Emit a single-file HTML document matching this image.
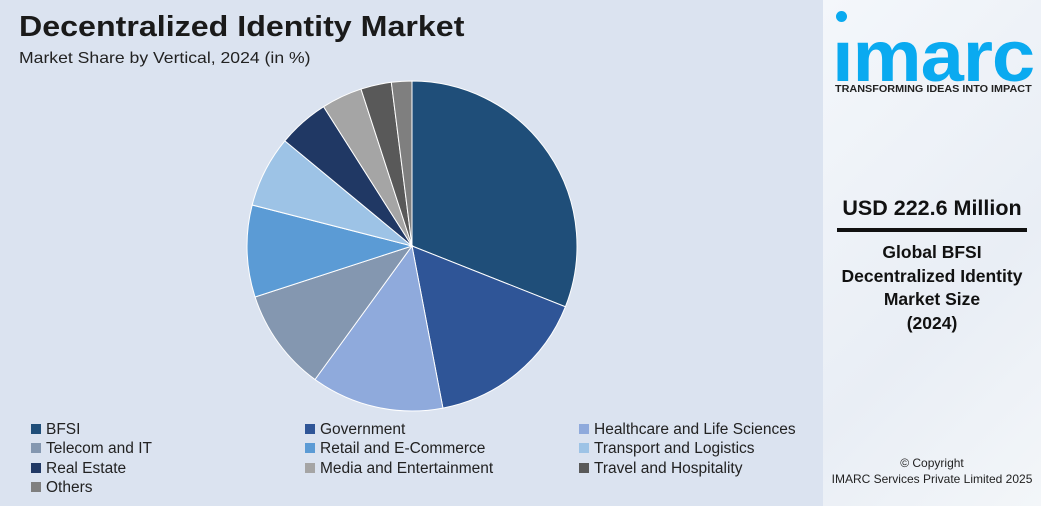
<!DOCTYPE html>
<html><head><meta charset="utf-8"><style>
body{margin:0;width:1041px;height:506px;overflow:hidden;font-family:"Liberation Sans",sans-serif;background:#fff;position:relative}
#main{position:absolute;left:0;top:0;width:823px;height:506px;background:#dbe3f0}
#side{position:absolute;left:823px;top:0;width:218px;height:506px;background:linear-gradient(135deg,#f4f7fb,#e9eef5 60%,#f3f6f9)}
.t{position:absolute;white-space:nowrap}
.lg{position:absolute;font-size:15.5px;color:#222}
.lg i{display:inline-block;width:10px;height:10px;margin-right:5px;vertical-align:0px}
</style></head><body>
<div id="main">
<div class="t" style="left:19px;top:11px;font-size:29px;font-weight:bold;color:#1a1a1a;transform:scaleX(1.11);transform-origin:left">Decentralized Identity Market</div>
<div class="t" style="left:19px;top:50px;font-size:16px;color:#222;transform:scaleX(1.1);transform-origin:left">Market Share by Vertical, 2024 (in %)</div>
<svg id="pie" width="823" height="420" style="position:absolute;left:0;top:0"></svg>
<div id="legend"></div>
</div>
<div id="side">
<div style="position:absolute;left:13px;top:11px;width:11px;height:11px;border-radius:50%;background:#0aaaf0"></div>
<div class="t" style="left:9px;top:26px;font-size:72px;font-weight:bold;color:#0aaaf0;letter-spacing:-1px;line-height:62px;transform:scaleX(1.08);transform-origin:left">ımarc</div>
<div class="t" style="left:12px;top:83px;font-size:10.5px;font-weight:bold;color:#222;transform:scaleX(1.03);transform-origin:left">TRANSFORMING IDEAS INTO IMPACT</div>
<div class="t" style="left:0;width:218px;text-align:center;top:196px;font-size:21.5px;font-weight:bold;color:#111">USD 222.6 Million</div>
<div style="position:absolute;left:14px;top:228px;width:190px;height:4px;background:#111"></div>
<div class="t" style="left:0;width:218px;text-align:center;top:241px;font-size:17.5px;font-weight:bold;color:#111;line-height:23.5px;white-space:normal">Global BFSI<br>Decentralized Identity<br>Market Size<br>(2024)</div>
<div class="t" style="left:0;width:218px;text-align:center;top:455px;font-size:12px;color:#222;line-height:16px">© Copyright<br>IMARC Services Private Limited 2025</div>
</div>
<script>
const categories=["BFSI","Government","Healthcare and Life Sciences","Telecom and IT","Retail and E-Commerce","Transport and Logistics","Real Estate","Media and Entertainment","Travel and Hospitality","Others"];
const shares=[31,16,13,10,9,7,5,4,3,2];
const colors=["#1f4e79","#2f5597","#8faadc","#8497b0","#5b9bd5","#9dc3e6","#203864","#a5a5a5","#595959","#7f7f7f"];
const svg=document.getElementById('pie');
const cx=412,cy=246,r=165;
const total=shares.reduce((a,b)=>a+b,0);
let a0=0;
shares.forEach((v,i)=>{
  const a1=a0+v/total*2*Math.PI;
  const x0=cx+r*Math.sin(a0),y0=cy-r*Math.cos(a0),x1=cx+r*Math.sin(a1),y1=cy-r*Math.cos(a1);
  const p=document.createElementNS('http://www.w3.org/2000/svg','path');
  p.setAttribute('d',`M${cx},${cy}L${x0},${y0}A${r},${r} 0 ${a1-a0>Math.PI?1:0} 1 ${x1},${y1}Z`);
  p.setAttribute('fill',colors[i]);
  p.setAttribute('stroke','#fff');p.setAttribute('stroke-width','1');
  
  
  svg.appendChild(p);a0=a1;
});
const lg=document.getElementById('legend');
categories.forEach((c,i)=>{
  const d=document.createElement('div');d.className='lg';
  d.style.left=(31+(i%3)*274)+'px';d.style.top=(421+Math.floor(i/3)*19.3)+'px';
  d.innerHTML=`<i style="background:${colors[i]}"></i>${c}`;
  
  
  lg.appendChild(d);
});
</script>
</body></html>
